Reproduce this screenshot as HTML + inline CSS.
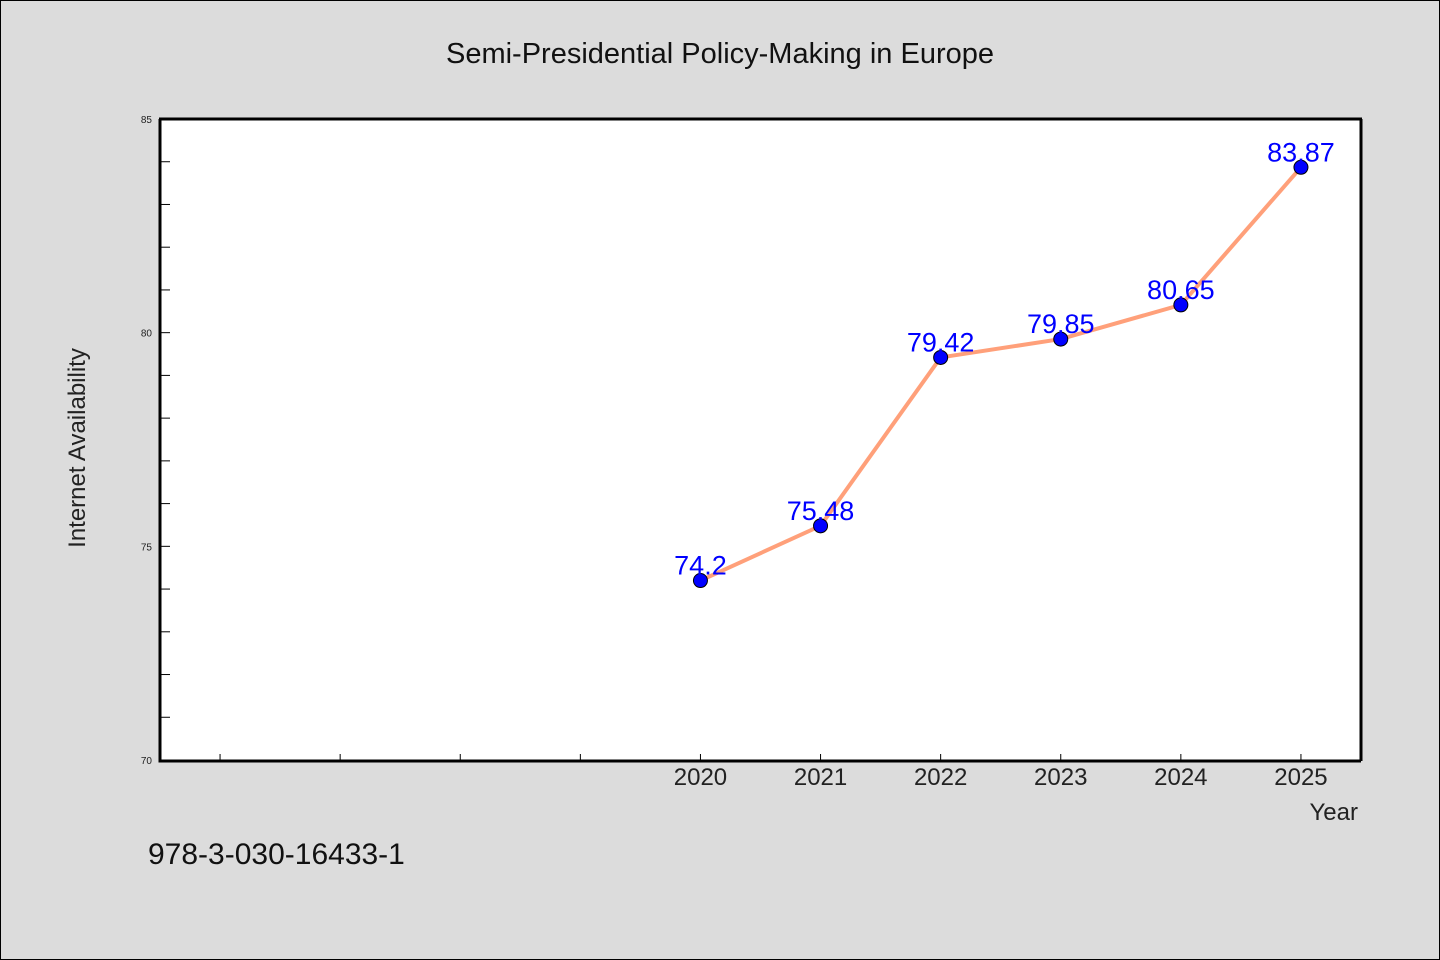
<!DOCTYPE html>
<html><head><meta charset="utf-8"><style>
body{margin:0;background:#dcdcdc;}
svg{display:block;font-family:"WenQuanYi Zen Hei","Liberation Sans",sans-serif;}
</style></head><body>
<svg id="chart" width="1440" height="960">
<rect x="0.5" y="0.5" width="1439" height="959" fill="#dcdcdc" stroke="#000"/>
<text x="720" y="63" text-anchor="middle" font-size="29" fill="#111">Semi-Presidential Policy-Making in Europe</text>
<rect x="160" y="120" width="1201" height="641" fill="#fff"/>
<g id="ticks"></g>
<g id="series"></g>
<path d="M1361,119 L1361,761 M159,119 L1362,119" stroke="#000" stroke-width="3" fill="none"/>
<path d="M160,119 L160,761 L1361,761" stroke="#000" stroke-width="3" fill="none"/>
<text x="85" y="448" text-anchor="middle" font-size="24" fill="#222" transform="rotate(-90 85 448)">Internet Availability</text>
<text x="1358" y="820" text-anchor="end" font-size="24" fill="#222">Year</text>
<text x="148" y="864" font-size="30" fill="#111">978-3-030-16433-1</text>
</svg>
<script>
const years=[2020,2021,2022,2023,2024,2025];
const values=[74.2,75.48,79.42,79.85,80.65,83.87];
const valueLabels=["74.2","75.48","79.42","79.85","80.65","83.87"];
const yTicks=[70,75,80,85];
const xMinorTicks=[2016,2017,2018,2019,2020,2021,2022,2023,2024,2025];
const NS="http://www.w3.org/2000/svg";
const x=v=>160+(v-2015.5)*120.1;
const y=v=>760-(v-70)*(641/15);
function mk(tag,attrs,parent){const e=document.createElementNS(NS,tag);for(const k in attrs)e.setAttribute(k,attrs[k]);parent.appendChild(e);return e;}
const tg=document.getElementById('ticks'),sg=document.getElementById('series');
for(let v=71;v<85;v++){
  const t=mk('line',{x1:160,x2:170,y1:y(v),y2:y(v),stroke:'#000','stroke-width':1},tg);
  
  
}
yTicks.forEach(v=>{
  const t=mk('text',{x:152,y:y(v)+4,'text-anchor':'end','font-size':10,fill:'#222'},tg);
  t.textContent=v;
  
  
});
xMinorTicks.forEach(v=>{
  const t=mk('line',{x1:x(v),x2:x(v),y1:760,y2:754,stroke:'#000','stroke-width':1},tg);
  
  
});
years.forEach(v=>{
  const t=mk('text',{x:x(v),y:785,'text-anchor':'middle','font-size':24,fill:'#222'},tg);
  t.textContent=v;
  
  
});
const line=mk('polyline',{points:years.map((yr,i)=>x(yr)+','+y(values[i])).join(' '),fill:'none',stroke:'#ffa07a','stroke-width':4},sg);


years.forEach((yr,i)=>{
  const c=mk('circle',{cx:x(yr),cy:y(values[i]),r:7,fill:'#0000ff',stroke:'#000','stroke-width':1},sg);
  
  
  const t=mk('text',{x:x(yr),y:y(values[i])-6,'text-anchor':'middle','font-size':27,fill:'#0000ff'},sg);
  t.textContent=valueLabels[i];
  
  
});
</script>
</body></html>
